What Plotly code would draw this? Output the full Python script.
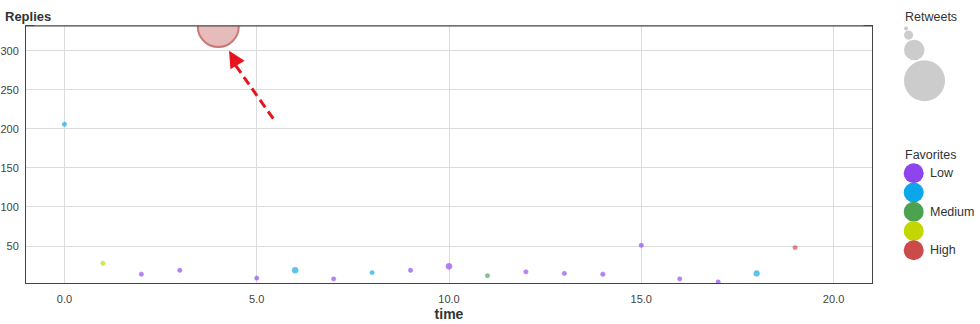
import plotly.graph_objects as go
import numpy as np

# ---- data ----
time = list(range(20))
replies = [206, 28, 14, 19, 331, 9, 19, 8, 16, 19, 24, 12, 17, 15, 14, 51, 8, 4, 15, 48]
retweets = [5, 10, 5, 5, 1000, 4, 22, 4, 9, 5, 22, 4, 7, 5, 12, 4, 5, 3, 20, 5]
favorites = [1, 3, 0, 0, 4, 0, 1, 0, 1, 0, 0, 2, 0, 0, 0, 0, 0, 0, 1, 4]  # level index

fav_colors = ["#8f45ee", "#0ca6ea", "#4ca24f", "#c3d600", "#cb4b4b"]
fav_labels = ["Low", "", "Medium", "", "High"]
retweet_legend = [10, 50, 250, 1000]
x_ticks = [0, 5, 10, 15, 20]
y_ticks = [50, 100, 150, 200, 250, 300]

W, H = 980, 324
ml, mr, mt, mb = 26, 108, 26, 41
pw, ph = W - ml - mr, H - mt - mb
MAXD = 41
sizeref = 2.0 * max(retweets) / (MAXD ** 2)


def px2paper_x(px):
    return (px - ml) / pw


def px2paper_y(py):
    return 1 - (py - mt) / ph


def rgba(hexc, a):
    h = hexc.lstrip("#")
    return f"rgba({int(h[0:2],16)},{int(h[2:4],16)},{int(h[4:6],16)},{a})"


big = [r >= 100 for r in retweets]
cols = ["#b8403f" if b else rgba(fav_colors[i], 0.6) for i, b in zip(favorites, big)]
fills = [rgba("#c05050", 0.55) if b else rgba(fav_colors[i], 0.95) for i, b in zip(favorites, big)]
lw = [2 if b else 0.8 for b in big]

fig = go.Figure()
fig.add_trace(go.Scatter(
    x=time, y=replies, mode="markers",
    marker=dict(size=retweets, sizemode="area", sizeref=sizeref, sizemin=2.2,
                color=fills, line=dict(color=cols, width=lw)),
    showlegend=False, hoverinfo="x+y",
))

font = "Liberation Sans, Arial, sans-serif"

fig.update_layout(
    width=W, height=H,
    margin=dict(l=ml, r=mr, t=mt, b=mb, pad=0, autoexpand=False),
    paper_bgcolor="white", plot_bgcolor="white",
    font=dict(family=font, size=11, color="#444"),
    xaxis=dict(range=[-1, 21], tickvals=x_ticks, ticktext=[f"{v:.1f}" for v in x_ticks],
               showgrid=True, gridcolor="#dcdcdc", gridwidth=1, zeroline=False,
               showline=True, linecolor="#444", linewidth=1, mirror=True, ticks="",
               automargin=False, ticklabelstandoff=6,
               title=dict(text="<b>time</b>", font=dict(size=14, color="#333"), standoff=4)),
    yaxis=dict(range=[2.7, 331.7], tickvals=y_ticks, showgrid=True, gridcolor="#dcdcdc",
               gridwidth=1, zeroline=False, showline=True, linecolor="#444", linewidth=1,
               mirror=True, ticks="", ticklabelstandoff=4, automargin=False),
)

ann = []
shapes = []

# mask anything drawn above the plot area (clip) and redraw top border
shapes.append(dict(type="rect", xref="paper", yref="paper", x0=0.01, x1=0.99, y0=1.002,
                   y1=1.2, fillcolor="white", line=dict(width=0), layer="above"))
shapes.append(dict(type="line", xref="paper", yref="paper", x0=0, x1=1, y0=1, y1=1,
                   line=dict(color="#444", width=1), layer="above"))

ann.append(dict(text="<b>Replies</b>", xref="paper", yref="paper",
                x=px2paper_x(3), y=px2paper_y(17), xanchor="left", yanchor="middle",
                showarrow=False, font=dict(size=13, color="#333")))

# arrow
head = (4.28, 300)
tail = (5.43, 213)
shapes.append(dict(type="line", xref="x", yref="y", x0=tail[0], y0=tail[1],
                   x1=4.37, y1=287, line=dict(color="#e8141c", width=3, dash="9px,5px")))
ann.append(dict(x=head[0], y=head[1], xref="x", yref="y", ax=6, ay=10, text="",
                showarrow=True, arrowhead=2, arrowsize=1.1, arrowwidth=3, arrowcolor="#e8141c"))

# Retweets legend
ann.append(dict(text="Retweets", xref="paper", yref="paper", x=px2paper_x(903),
                y=px2paper_y(17), xanchor="left", yanchor="middle", showarrow=False,
                font=dict(size=12.5, color="#333")))
ytop = 26.4
for v in retweet_legend:
    d = MAXD * np.sqrt(v / max(retweets))
    r = d / 2
    cy = ytop + r
    cx = 904 + r
    shapes.append(dict(type="circle", xref="paper", yref="paper",
                       xsizemode="pixel", ysizemode="pixel",
                       xanchor=px2paper_x(cx), yanchor=px2paper_y(cy),
                       x0=-r, x1=r, y0=-r, y1=r,
                       fillcolor="#cccccc", line=dict(width=0)))
    ytop += d

# Favorites legend
ann.append(dict(text="Favorites", xref="paper", yref="paper", x=px2paper_x(903),
                y=px2paper_y(155), xanchor="left", yanchor="middle", showarrow=False,
                font=dict(size=12.5, color="#333")))
for i, (c, lab) in enumerate(zip(fav_colors, fav_labels)):
    cy = 173.3 + i * 19.25
    cx = 913.7
    shapes.append(dict(type="circle", xref="paper", yref="paper",
                       xsizemode="pixel", ysizemode="pixel",
                       xanchor=px2paper_x(cx), yanchor=px2paper_y(cy),
                       x0=-10, x1=10, y0=-10, y1=10,
                       fillcolor=c, line=dict(width=0)))
    if lab:
        ann.append(dict(text=lab, xref="paper", yref="paper", x=px2paper_x(928),
                        y=px2paper_y(cy), xanchor="left", yanchor="middle", showarrow=False,
                        font=dict(size=12.5, color="#333")))

fig.update_layout(annotations=ann, shapes=shapes)
fig.write_html("out.html")
